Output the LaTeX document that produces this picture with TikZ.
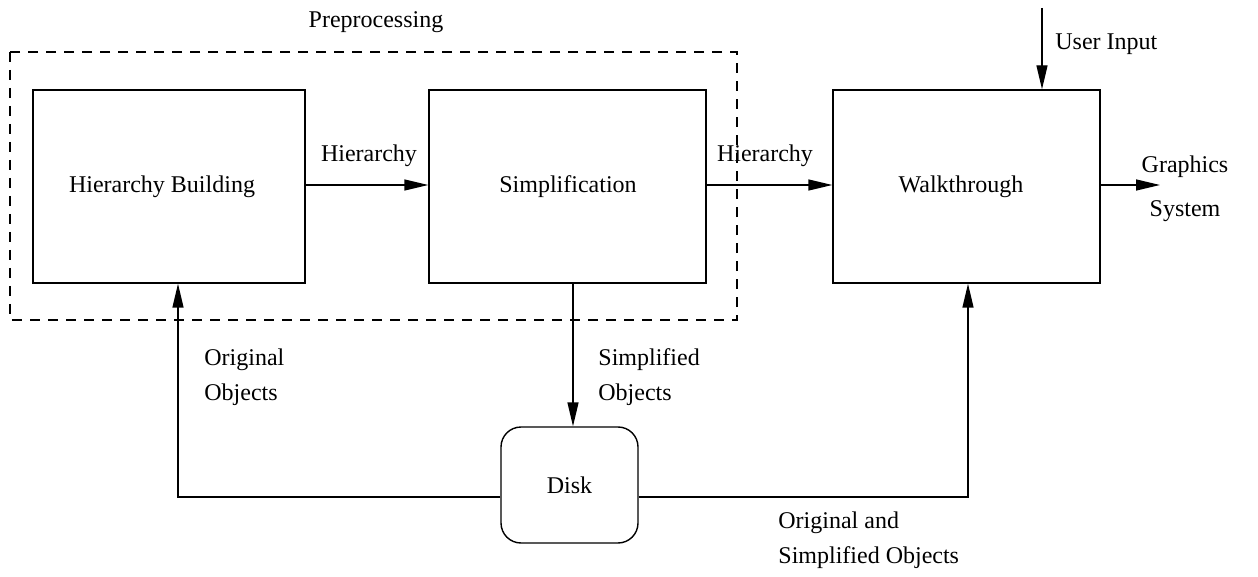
\documentclass[tikz,border=0pt]{standalone}
\usepackage{fontspec}
\setmainfont{Liberation Serif}
\usetikzlibrary{arrows.meta}
\begin{document}
\begin{tikzpicture}[x=0.5pt,y=-0.5pt,
  box/.style={draw,line width=0.7pt,inner sep=0pt,minimum width=#1},
  lbl/.style={font=\fontsize{12}{17.5}\selectfont,inner sep=0pt},
  conn/.style={line width=0.7pt,-{Triangle[length=12pt,width=5.5pt]}},
  plain/.style={line width=0.7pt}]
\useasboundingbox (0,0) rectangle (1258,577);
\draw[line width=0.6pt,dash pattern=on 5pt off 4pt] (10,52) rectangle (737,320);
\node[lbl] (pre) at (376,22) {Preprocessing};
\node[box=136pt,minimum height=96.5pt] (hb) at (169,186.5) {};
\node[lbl] (hbt) at (162,186.5) {Hierarchy Building};
\node[box=138.5pt,minimum height=96.5pt] (simp) at (567.5,186.5) {};
\node[lbl] (simpt) at (568,186.5) {Simplification};
\node[box=133.5pt,minimum height=96.5pt] (walk) at (966.5,186.5) {};
\node[lbl] (walkt) at (961,186.5) {Walkthrough};
\node[box=68.5pt,minimum height=58pt,rounded corners=10pt,lbl] (disk) at (569.5,485) {Disk};
\coordinate (ui) at (1042,8);
\coordinate (gs) at (1160,185);
\draw[conn] (hb.east |- 0,185) -- (simp.west |- 0,185);
\node[lbl] (h1) at (369,156) {Hierarchy};
\draw[conn] (simp.east |- 0,185) -- (walk.west |- 0,185);
\node[lbl] (h2) at (765,156) {Hierarchy};
\draw[conn] (ui) -- (walk.north -| ui);
\node[lbl,anchor=west] (uil) at (1055,44) {User Input};
\draw[conn] (walk.east |- gs) -- (gs);
\node[lbl,align=center,font=\fontsize{12}{22}\selectfont] (gsl) at (1185,189) {Graphics\\System};
\draw[conn] (simp.south -| 573,0) -- (disk.north -| 573,0);
\node[lbl,anchor=west,align=left] (sol) at (598,377.5) {Simplified\\Objects};
\draw[conn] (disk.west |- 0,497) -| (hb.south -| 178,0);
\node[lbl,anchor=west,align=left] (ool) at (204,377.5) {Original\\Objects};
\draw[conn] (disk.east |- 0,497) -| (walk.south -| 968,0);
\node[lbl,anchor=west,align=left] (osl) at (778,540.5) {Original and\\Simplified Objects};
\end{tikzpicture}
\end{document}
